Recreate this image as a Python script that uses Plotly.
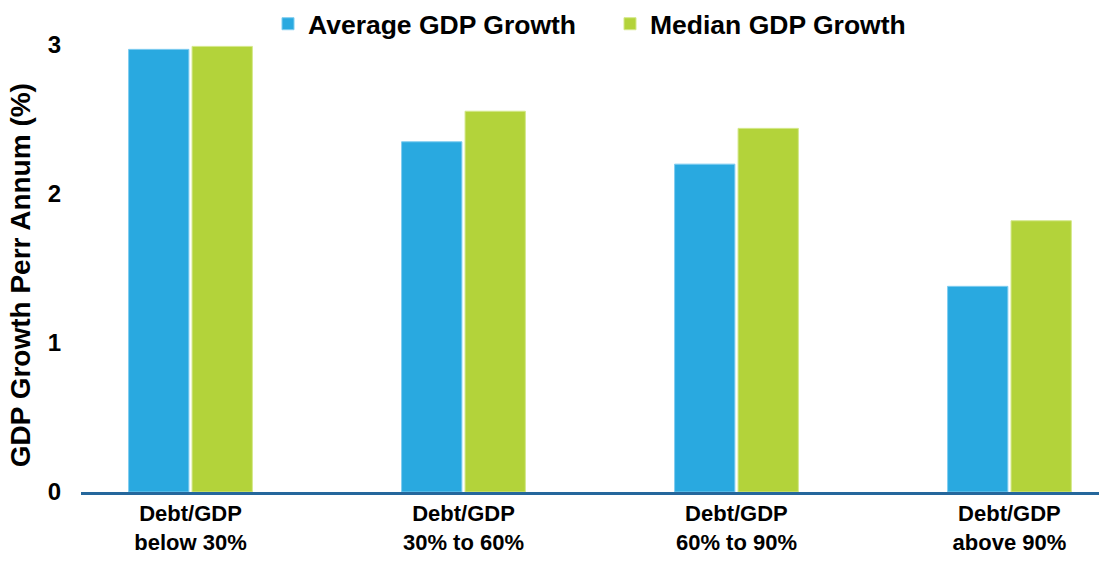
import plotly.graph_objects as go

categories = ["Debt/GDP<br>below 30%", "Debt/GDP<br>30% to 60%", "Debt/GDP<br>60% to 90%", "Debt/GDP<br>above 90%"]
average_growth = [2.97, 2.35, 2.20, 1.38]
median_growth = [2.99, 2.555, 2.44, 1.82]
y_ticks = [0, 1, 2, 3]

FONT = "Liberation Sans, Arial, sans-serif"
BLUE = "#29a9e0"
GREEN = "#b3d33a"

fig = go.Figure()
fig.add_trace(go.Bar(x=list(range(len(categories))), y=average_growth, name="Average GDP Growth",
                     marker=dict(color=BLUE, line=dict(color="#7fcdf0", width=1))))
fig.add_trace(go.Bar(x=list(range(len(categories))), y=median_growth, name="Median GDP Growth",
                     marker=dict(color=GREEN, line=dict(color="#d4e88a", width=1))))

fig.update_layout(
    width=1099, height=561,
    margin=dict(l=81, r=0, t=30, b=69, autoexpand=False),
    paper_bgcolor="white", plot_bgcolor="white",
    barmode="group", bargap=0.535, bargroupgap=0.05,
    font=dict(family=FONT, color="black"),
    showlegend=True,
    legend=dict(orientation="h", xref="container", yref="container",
                x=268 / 1099, xanchor="left", y=1.0, yanchor="top",
                font=dict(size=26.5, family=FONT, color="black", weight="bold"),
                entrywidth=297, entrywidthmode="pixels",
                bgcolor="rgba(0,0,0,0)", borderwidth=0, traceorder="normal"),
    xaxis=dict(range=[-0.401, 3.328], tickmode="array", tickvals=list(range(len(categories))),
               ticktext=categories, showgrid=False, zeroline=False,
               showline=True, linecolor="#25679c", linewidth=3,
               ticks="", tickfont=dict(size=22, family=FONT, color="black", weight="bold")),
    yaxis=dict(range=[0, 3.1], tickmode="array", tickvals=y_ticks, ticktext=[str(v) for v in y_ticks],
               showgrid=False, zeroline=False, showline=False, ticks="",
               ticklabelstandoff=19,
               tickfont=dict(size=24, family=FONT, color="black", weight="bold")),
    annotations=[dict(text="GDP Growth Perr Annum (%)", xref="paper", yref="paper",
                      x=-81 / 1018 + 20 / 1018, y=(491.7 - 275) / 462, xanchor="center", yanchor="middle",
                      textangle=-90, showarrow=False,
                      font=dict(size=28, family=FONT, color="black", weight="bold"))],
)

fig.write_html("out.html")
